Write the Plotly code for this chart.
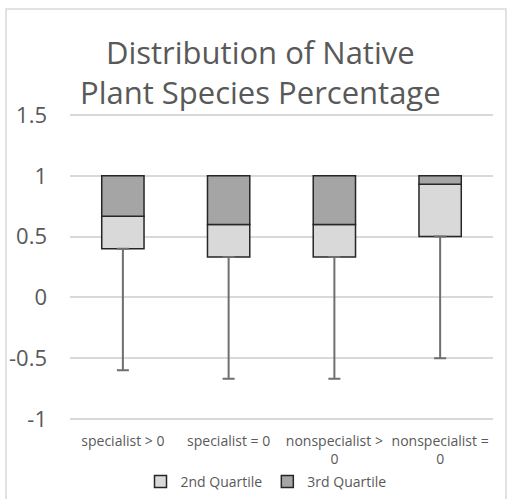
import plotly.graph_objects as go

categories = ["specialist > 0", "specialist = 0", "nonspecialist ><br>0", "nonspecialist =<br>0"]
minimum = [-0.6, -0.67, -0.67, -0.5]
q1 = [0.4, 0.333, 0.333, 0.5]
median = [0.667, 0.6, 0.6, 0.93]
q3 = [1.0, 1.0, 1.0, 1.0]
y_ticks = [-1, -0.5, 0, 0.5, 1, 1.5]
y_tick_labels = ["-1", "-0.5", "0", "0.5", "1", "1.5"]
title_text = "Distribution of Native<br>Plant Species Percentage"

second = [m - a for m, a in zip(median, q1)]
third = [b - m for b, m in zip(q3, median)]
whisker = [a - mn for a, mn in zip(q1, minimum)]

FONT = "Open Sans"
TXT = "#595959"

fig = go.Figure()
fig.add_trace(go.Scatter(
    x=categories, y=q1, mode="markers", marker=dict(size=1, color="rgba(0,0,0,0)"),
    error_y=dict(type="data", symmetric=False, array=[0] * len(q1), arrayminus=whisker,
                 color="#6f6f6f", thickness=2, width=6),
    showlegend=False, hoverinfo="skip"))
fig.add_trace(go.Bar(
    x=categories, y=second, base=q1, name="2nd Quartile", width=0.4,
    marker=dict(color="#d9d9d9", line=dict(color="#262626", width=1.5))))
fig.add_trace(go.Bar(
    x=categories, y=third, base=median, name="3rd Quartile", width=0.4,
    marker=dict(color="#a5a5a5", line=dict(color="#262626", width=1.5))))

W, H = 507, 499
L, R, T, B = 70, 14, 109, 74
pw, ph = W - L - R, H - T - B
px_per_unit = 121.6
ext = (ph / px_per_unit - 2.5) / 2


def py(pix):
    return (H - B - pix) / ph


def px(pix):
    return (pix - L) / pw


annotations = [
    dict(text=title_text, x=px(260), y=py(72), xref="paper", yref="paper",
         xanchor="center", yanchor="middle", showarrow=False,
         font=dict(family=FONT, size=31, color=TXT)),
]

fig.update_layout(
    width=W, height=H, barmode="overlay",
    margin=dict(l=L, r=R, t=T, b=B, autoexpand=False),
    paper_bgcolor="white", plot_bgcolor="white",
    font=dict(family=FONT, color=TXT),
    annotations=annotations,
    legend=dict(orientation="h", x=px(266), xanchor="center",
                y=py(482), yanchor="middle",
                font=dict(size=14, color=TXT), itemwidth=30,
                traceorder="normal"),
    xaxis=dict(showgrid=False, showline=False, zeroline=False, ticks="",
               tickfont=dict(size=14, color=TXT), tickangle=0,
               ticklabelstandoff=6),
    yaxis=dict(range=[-1 - ext, 1.5 + ext], tickvals=y_ticks, ticktext=y_tick_labels,
               showgrid=True, gridcolor="#d9d9d9", gridwidth=1.5,
               zeroline=False, showline=False, ticks="",
               tickfont=dict(size=22, color=TXT), ticklabelstandoff=22),
    shapes=[dict(type="rect", xref="paper", yref="paper",
                 x0=px(6), x1=px(506), y0=py(510), y1=py(9),
                 line=dict(color="#d9d9d9", width=1.5), fillcolor="rgba(0,0,0,0)",
                 layer="below")],
)

fig.write_html("out.html", config={"displayModeBar": False},
               post_script="document.body.style.margin='0px';")
